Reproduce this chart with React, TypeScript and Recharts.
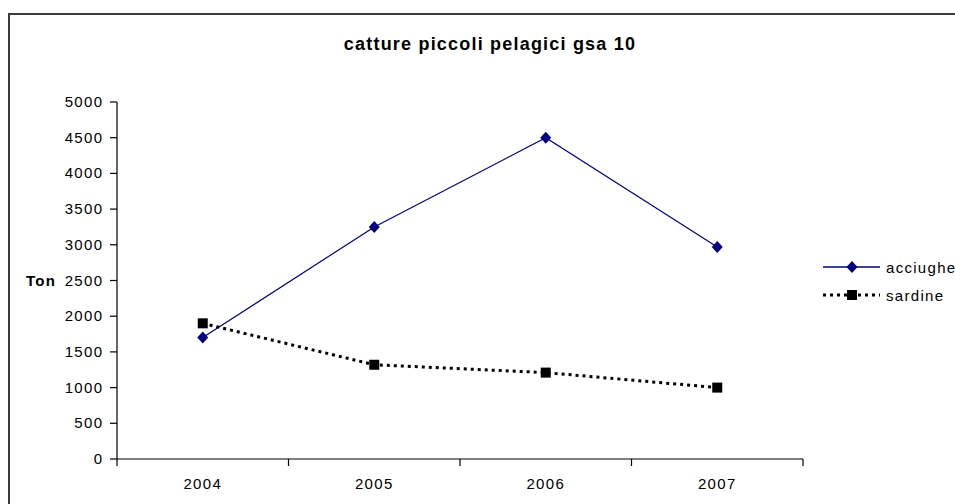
import { Line, LineChart, XAxis, YAxis } from "recharts";

const years = ["2004", "2005", "2006", "2007"];
const acciughe = [1700, 3250, 4500, 2970];
const sardine = [1900, 1320, 1210, 1000];
const yTicks = [0, 500, 1000, 1500, 2000, 2500, 3000, 3500, 4000, 4500, 5000];

const fontFamily = '"Liberation Sans", Arial, sans-serif';
const spacing = 1.3;
const navy = "#000080";

// numeric x so the tick marks can sit on category boundaries like in excel
const data = years.map((year, index) => ({
  pos: index + 0.5,
  year,
  acciughe: acciughe[index],
  sardine: sardine[index],
}));

const xTicks = [0, 0.5, 1, 1.5, 2, 2.5, 3, 3.5, 4];

function XTick(props: any) {
  const { x, y, payload } = props;
  const value = payload.value as number;
  if (Number.isInteger(value)) {
    return <line x1={x} x2={x} y1={y} y2={y + 7} stroke="#000" strokeWidth={1.2} />;
  }
  const label = years[Math.floor(value)];
  return (
    <text
      x={x}
      y={y + 30}
      textAnchor="middle"
      fontSize={15}
      fill="#000"
      fontFamily={fontFamily}
      letterSpacing={spacing}
    >
      {label}
    </text>
  );
}

function YTick(props: any) {
  const { x, y, payload } = props;
  return (
    <text
      x={x + spacing}
      y={y + 5}
      textAnchor="end"
      fontSize={15}
      fill="#000"
      fontFamily={fontFamily}
      letterSpacing={spacing}
    >
      {payload.value}
    </text>
  );
}

function Diamond(props: any) {
  const { cx, cy } = props;
  if (cx == null || cy == null) return null;
  return (
    <polygon
      points={`${cx},${cy - 6} ${cx + 5.5},${cy} ${cx},${cy + 6} ${cx - 5.5},${cy}`}
      fill={navy}
    />
  );
}

function Square(props: any) {
  const { cx, cy } = props;
  if (cx == null || cy == null) return null;
  return <rect x={cx - 5} y={cy - 5} width={10} height={10} fill="#000" />;
}

function ChartLegend() {
  const rowStyle = { display: "flex", alignItems: "center", height: 28 };
  return (
    <div
      style={{
        position: "absolute",
        left: 823,
        top: 253,
        width: 200,
        fontFamily,
        fontSize: 15,
        letterSpacing: spacing,
        color: "#000",
      }}
    >
      <div style={rowStyle}>
        <svg width={60} height={14}>
          <line x1={0} x2={57} y1={7} y2={7} stroke={navy} strokeWidth={1.5} />
          <Diamond cx={29} cy={7} />
        </svg>
        <span style={{ marginLeft: 3 }}>acciughe</span>
      </div>
      <div style={rowStyle}>
        <svg width={60} height={14}>
          <line x1={0} x2={57} y1={7} y2={7} stroke="#000" strokeWidth={3} strokeDasharray="3 4" />
          <Square cx={29} cy={7} />
        </svg>
        <span style={{ marginLeft: 3 }}>sardine</span>
      </div>
    </div>
  );
}

export default function App() {
  return (
    <div
      style={{
        position: "fixed",
        left: 0,
        top: 0,
        width: 955,
        height: 504,
        overflow: "hidden",
        background: "#fff",
        fontFamily,
      }}
    >
      <div
        style={{
          position: "absolute",
          left: 8,
          top: 13,
          width: 1000,
          height: 540,
          border: "2px solid #3a3a3a",
        }}
      />
      <div
        style={{
          position: "absolute",
          left: 0,
          width: 980,
          top: 34,
          textAlign: "center",
          fontWeight: "bold",
          fontSize: 18,
          letterSpacing: 1.2,
          color: "#000",
        }}
      >
        catture piccoli pelagici gsa 10
      </div>
      <div style={{ position: "absolute", left: 0, top: 0 }}>
        <LineChart
          width={955}
          height={504}
          data={data}
          margin={{ top: 102, right: 152, bottom: 15, left: 0 }}
        >
          <XAxis
            dataKey="pos"
            type="number"
            domain={[0, 4]}
            ticks={xTicks}
            interval={0}
            tick={<XTick />}
            tickLine={false}
            tickSize={0}
            tickMargin={0}
            height={30}
            stroke="#000"
            strokeWidth={1.2}
          />
          <YAxis
            domain={[0, 5000]}
            ticks={yTicks}
            interval={0}
            width={117}
            tickSize={7}
            tickMargin={8}
            stroke="#000"
            strokeWidth={1.2}
            tick={<YTick />}
            label={{
              value: "Ton",
              position: "insideLeft",
              offset: 26,
              fill: "#000",
              fontSize: 15,
              fontWeight: "bold",
              fontFamily,
              letterSpacing: spacing,
            }}
          />
          <Line
            dataKey="acciughe"
            stroke={navy}
            strokeWidth={1.2}
            dot={<Diamond />}
            activeDot={false}
            isAnimationActive={false}
          />
          <Line
            dataKey="sardine"
            stroke="#000"
            strokeWidth={3}
            strokeDasharray="3 4"
            dot={<Square />}
            activeDot={false}
            isAnimationActive={false}
          />
        </LineChart>
      </div>
      <ChartLegend />
    </div>
  );
}
